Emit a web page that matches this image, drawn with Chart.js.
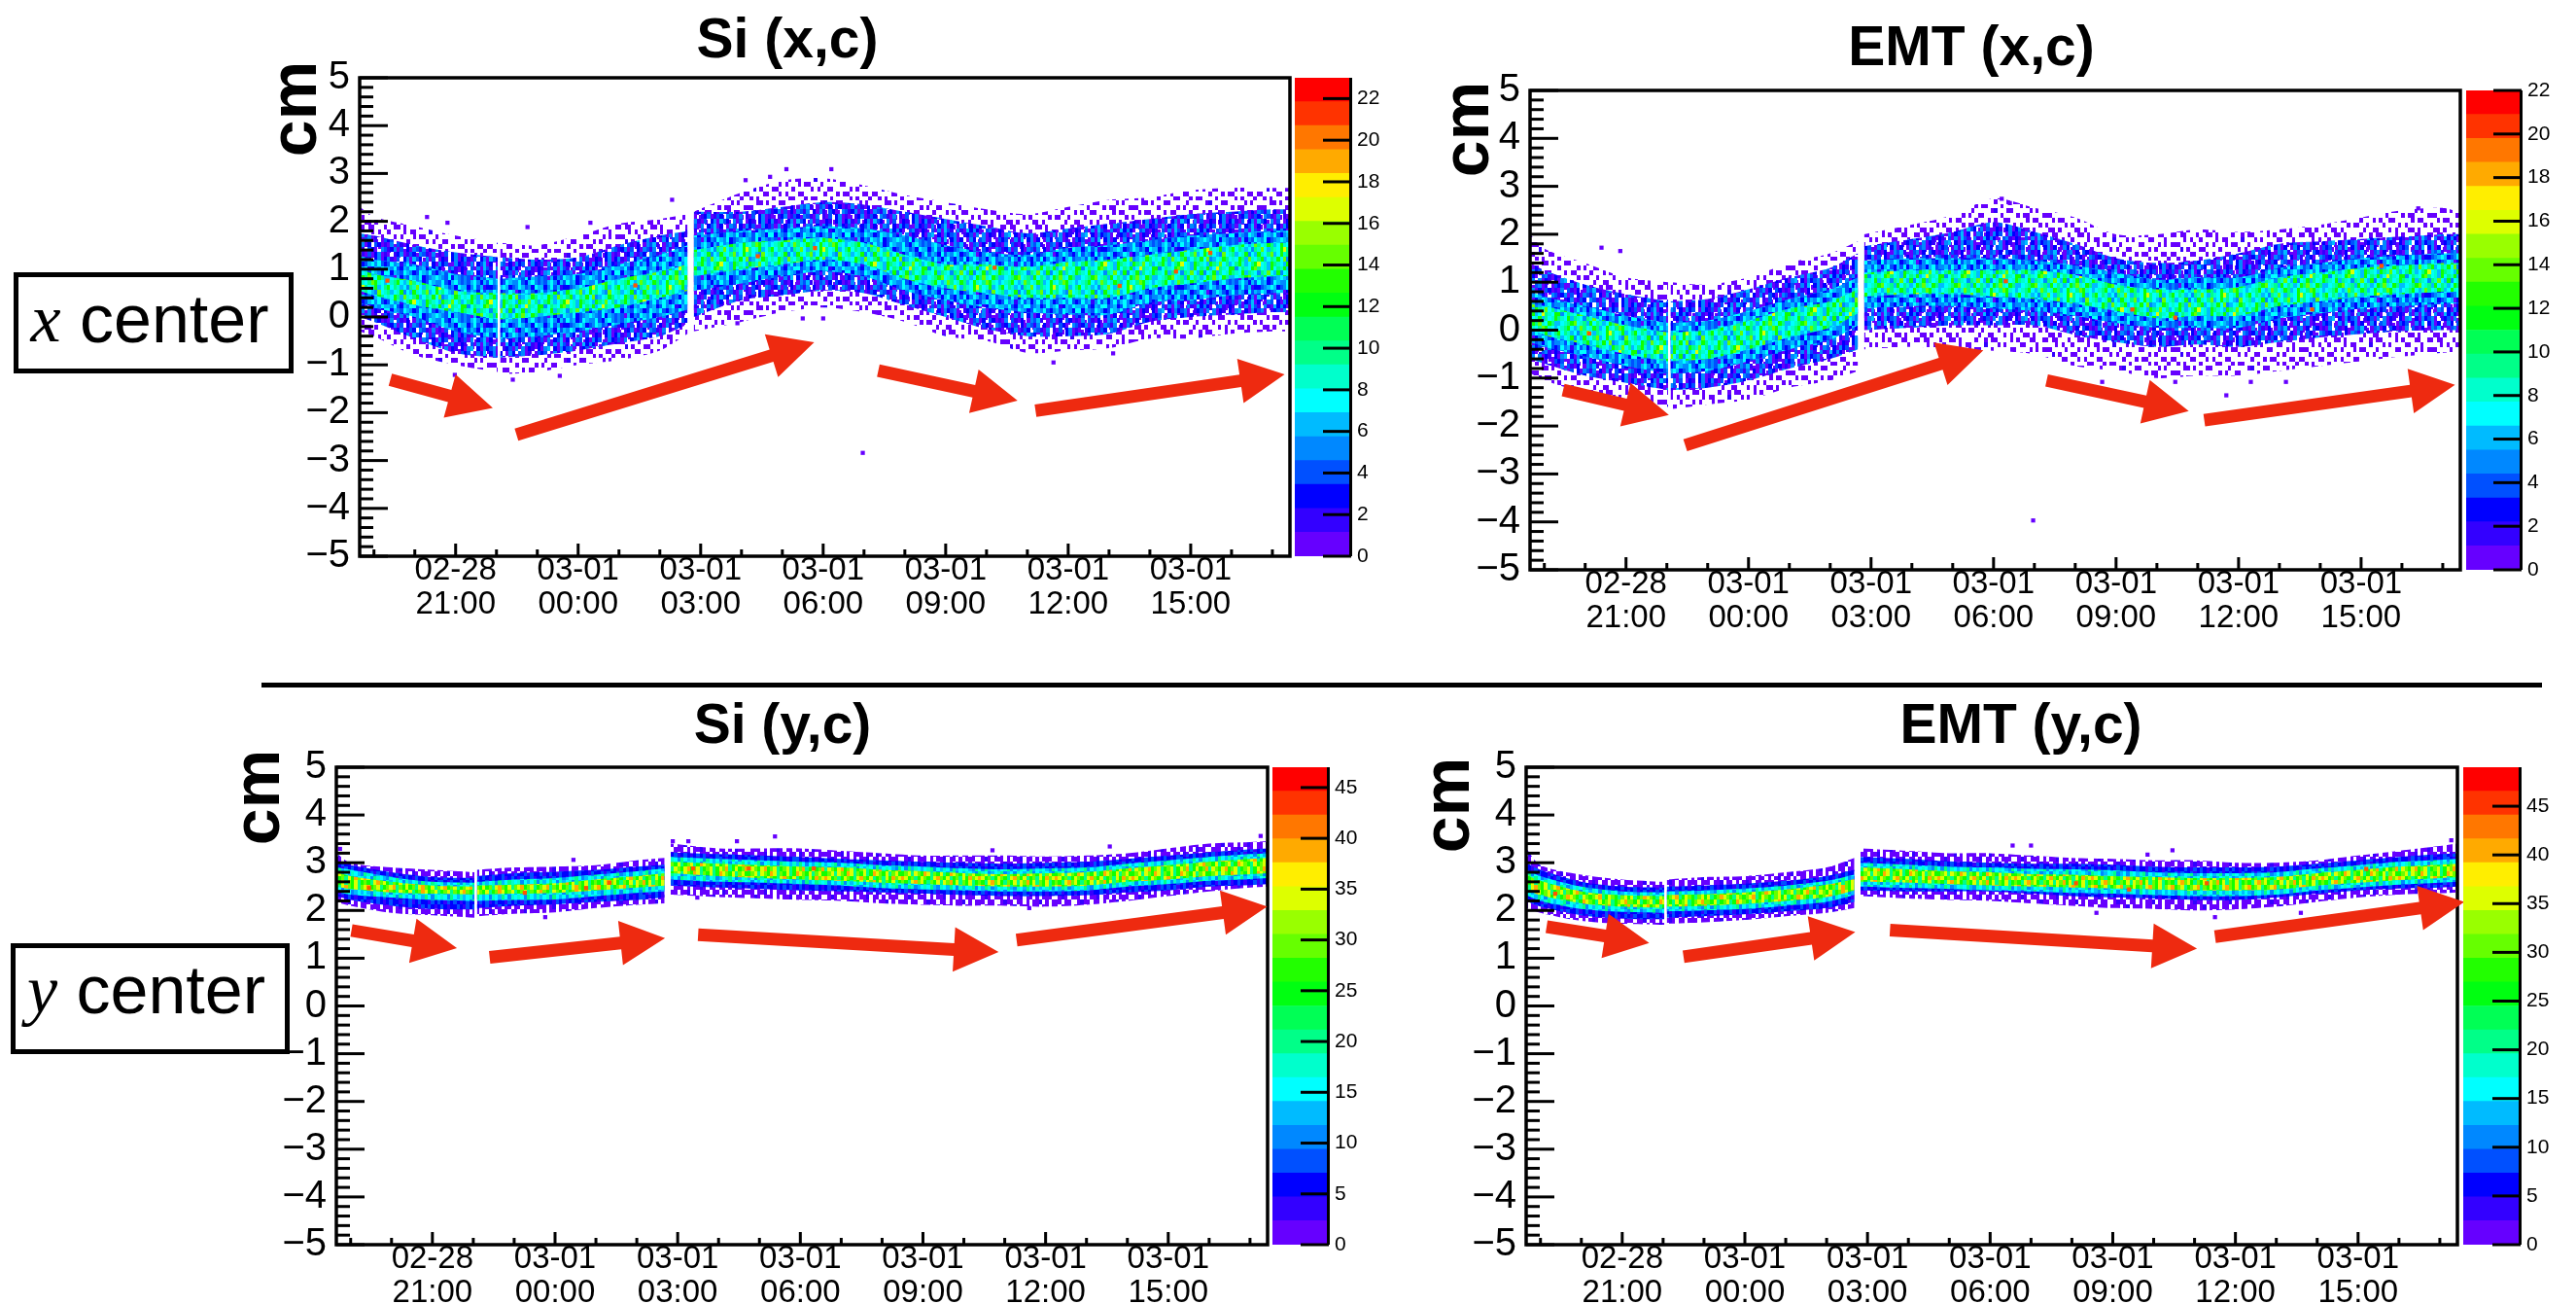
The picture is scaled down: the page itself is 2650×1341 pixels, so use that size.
<!DOCTYPE html>
<html lang="en">
<head>
<meta charset="UTF-8">
<title>Si and EMT beam center</title>
<script src="https://cdn.jsdelivr.net/npm/chart.js"></script>
<style>
  html, body { margin: 0; padding: 0; background: #fff; width: 2650px; height: 1341px; overflow: hidden; }
  canvas { position: absolute; }
  .box { position: absolute; box-sizing: border-box; border: 5px solid #000; display: flex; align-items: center; justify-content: center;
         font: 70px "Liberation Sans"; color: #000; white-space: pre; padding-right: 8px; }
  .box i { font-family: "Liberation Serif"; }
  #sep { position: absolute; left: 269px; top: 702px; width: 2346px; height: 5px; background: #000; }
</style>
</head>
<body>
<div class="box" style="left:14px;top:280px;width:288px;height:104px;padding-bottom:8px"><i>x</i> center</div>
<div class="box" style="left:11px;top:970px;width:287px;height:114px;padding-bottom:18px"><i>y</i> center</div>
<div id="sep"></div>

<script>
// time axis, hours counted from 02-28 00:00. null rows are the white gaps in the run
const hours = [18.65,19,20,21,22.03,22.06,22.09,23,24,25,26,26.68,26.75,26.83,28,29,30,31,32,33,34,35,36,37,38,39,40,41,41.43];
const majorHours = [21,24,27,30,33,36,39];
const dateLabels = ['02-28','03-01','03-01','03-01','03-01','03-01','03-01'];
const timeLabels = ['21:00','00:00','03:00','06:00','09:00','12:00','15:00'];

// Si (x,c)
const siXFringeTop = [2.3,2.1,1.9,1.7,1.55,null,1.55,1.5,1.7,1.95,2.05,2.15,null,2.2,2.6,2.85,2.9,2.75,2.55,2.4,2.25,2.15,2.3,2.45,2.5,2.65,2.7,2.7,2.7];
const siXBlueTop = [1.75,1.7,1.5,1.35,1.25,null,1.25,1.2,1.25,1.5,1.7,1.8,null,2.2,2.2,2.3,2.4,2.35,2.2,2.05,1.9,1.75,1.85,1.95,2.05,2.15,2.2,2.25,2.25];
const siXCyanTop = [1.3,1.2,1.1,0.9,0.8,null,0.8,0.85,0.9,1.1,1.3,1.5,null,1.7,1.8,1.85,1.9,1.85,1.7,1.5,1.35,1.3,1.45,1.5,1.6,1.7,1.75,1.8,1.8];
const siXCoreTop = [1.0,0.9,0.75,0.55,0.5,null,0.5,0.5,0.6,0.8,0.95,1.1,null,1.4,1.55,1.6,1.65,1.55,1.3,1.1,1.1,1.05,1.15,1.2,1.3,1.4,1.5,1.55,1.55];
const siXCoreBot = [0.55,0.45,0.25,0.1,-0.05,null,-0.05,0,0.1,0.2,0.4,0.55,null,0.85,1.0,1.1,1.2,1.1,0.8,0.6,0.5,0.4,0.4,0.4,0.6,0.7,0.8,0.85,0.85];
const siXCyanBot = [0.3,0.2,0,-0.3,-0.45,null,-0.45,-0.4,-0.3,-0.15,0,0.15,null,0.55,0.7,0.85,0.95,0.85,0.55,0.35,0.2,0.1,0.05,0.05,0.3,0.35,0.45,0.5,0.5];
const siXBlueBot = [0,-0.1,-0.45,-0.75,-0.85,null,-0.85,-0.8,-0.7,-0.55,-0.4,-0.15,null,0,0.35,0.45,0.55,0.5,0.25,0,-0.25,-0.4,-0.4,-0.35,-0.1,0,0.05,0.1,0.1];
const siXFringeBot = [-0.3,-0.4,-0.8,-1.0,-1.15,null,-1.2,-1.15,-1.0,-0.9,-0.7,-0.35,null,-0.3,-0.1,0.1,0.2,0.1,-0.1,-0.4,-0.5,-0.75,-0.7,-0.65,-0.45,-0.45,-0.35,-0.3,-0.3];
const siXStray = [[30.97,-2.84],[29.1,3.09],[30.2,3.09],[35.64,-0.95],[37.1,-0.76],[20.3,2.09],[20.8,1.97],[22.76,1.88],[22.4,-1.31],[23.55,-1.23],[20.98,-1.21],[24.3,1.97],[26.3,2.45],[28.7,2.93],[28.1,2.86],[29.5,-0.03],[30,-0.03],[27.9,-0.13]];
const siXHot = [[39.48,1.34],[37.26,0.65],[38.64,0.95],[34.2,1.03],[25.4,0.66],[28.4,1.27],[29.8,1.44],[19.33,0.76]];
const siXArrows = [[19.4,-1.31,21.91,-1.9],[22.49,-2.46,29.78,-0.53],[31.35,-1.12,34.76,-1.75],[35.2,-1.96,41.3,-1.2]];

// EMT (x,c)
const emtXFringeTop = [2.0,1.7,1.4,1.1,1.0,null,1.0,0.95,1.1,1.4,1.6,1.85,null,2.0,2.2,2.4,2.75,2.55,2.35,2.0,2.0,2.1,2.05,2.1,2.2,2.35,2.5,2.55,2.45];
const emtXBlueTop = [1.4,1.25,0.95,0.75,0.6,null,0.6,0.65,0.85,1.1,1.3,1.6,null,1.75,1.9,2.05,2.25,2.05,1.8,1.5,1.4,1.45,1.6,1.8,1.85,1.9,1.95,2.0,2.0];
const emtXCyanTop = [0.8,0.7,0.5,0.3,0.15,null,0.15,0.2,0.4,0.65,0.85,1.1,null,1.45,1.5,1.5,1.5,1.45,1.35,1.2,1.05,1.1,1.1,1.3,1.4,1.5,1.55,1.6,1.6];
const emtXCoreTop = [0.55,0.5,0.3,0.1,-0.05,null,-0.05,0,0.2,0.45,0.6,0.85,null,1.2,1.25,1.25,1.25,1.25,1.15,0.95,0.85,0.85,0.9,1.1,1.2,1.3,1.35,1.4,1.4];
const emtXCoreBot = [0.05,-0.1,-0.3,-0.5,-0.65,null,-0.65,-0.6,-0.4,-0.15,0.05,0.35,null,0.7,0.75,0.75,0.7,0.65,0.55,0.4,0.25,0.3,0.3,0.5,0.6,0.7,0.75,0.8,0.8];
const emtXCyanBot = [-0.25,-0.35,-0.55,-0.75,-0.9,null,-0.9,-0.85,-0.65,-0.4,-0.2,0.1,null,0.45,0.5,0.5,0.45,0.4,0.3,0.15,0.05,0.05,0.05,0.25,0.35,0.45,0.5,0.55,0.55];
const emtXBlueBot = [-0.6,-0.7,-0.95,-1.1,-1.25,null,-1.25,-1.2,-1.05,-0.8,-0.6,-0.4,null,0,0.05,0.1,0.1,0.1,-0.1,-0.25,-0.35,-0.3,-0.35,-0.25,-0.15,-0.08,-0.02,0,0];
const emtXFringeBot = [-0.9,-1.05,-1.3,-1.45,-1.6,null,-1.65,-1.55,-1.45,-1.2,-1.05,-0.85,null,-0.4,-0.35,-0.4,-0.43,-0.5,-0.75,-0.85,-1.0,-0.95,-0.95,-0.85,-0.75,-0.65,-0.55,-0.47,-0.45];
const emtXStray = [[30.97,-3.97],[35.7,-1.36],[30.2,2.74],[30.4,2.65],[20.4,1.72],[20.86,1.65],[32.66,-1.08],[34.45,-1.08],[36.3,-1.08],[37.16,-1.08],[40.4,2.54]];
const emtXHot = [[20.1,-0.07],[30.3,1.02],[33.4,0.43],[34.45,0.26],[37.8,0.43],[39.5,1.34]];
const emtXArrows = [[19.46,-1.25,22.05,-1.77],[22.45,-2.4,29.75,-0.42],[31.3,-1.05,34.78,-1.69],[35.16,-1.88,41.3,-1.14]];

// Si (y,c)
const siYFringeTop = [3.2,3.0,2.9,2.85,2.8,null,2.85,2.9,2.92,2.95,3.05,3.1,null,3.4,3.3,3.3,3.3,3.25,3.2,3.15,3.15,3.15,3.13,3.15,3.2,3.3,3.4,3.43,3.45];
const siYBlueTop = [3.0,2.95,2.8,2.7,2.68,null,2.72,2.78,2.81,2.85,2.92,2.96,null,3.22,3.18,3.15,3.12,3.08,3.05,3.02,3.0,2.98,3.0,3.02,3.08,3.15,3.22,3.28,3.3];
const siYCyanTop = [2.9,2.85,2.7,2.6,2.58,null,2.6,2.65,2.68,2.75,2.82,2.88,null,3.12,3.08,3.05,3.02,3.0,2.95,2.92,2.88,2.86,2.88,2.9,2.98,3.05,3.12,3.18,3.2];
const siYCoreTop = [2.8,2.72,2.6,2.52,2.5,null,2.52,2.54,2.57,2.65,2.72,2.78,null,3.02,2.98,2.95,2.92,2.9,2.85,2.82,2.78,2.76,2.78,2.8,2.88,2.95,3.02,3.08,3.1];
const siYCoreBot = [2.5,2.45,2.38,2.35,2.33,null,2.33,2.35,2.37,2.42,2.48,2.52,null,2.78,2.72,2.68,2.65,2.62,2.58,2.55,2.52,2.5,2.5,2.52,2.6,2.65,2.72,2.76,2.78];
const siYCyanBot = [2.4,2.33,2.27,2.22,2.2,null,2.2,2.22,2.23,2.3,2.37,2.4,null,2.65,2.6,2.58,2.55,2.52,2.47,2.44,2.42,2.4,2.4,2.42,2.5,2.55,2.62,2.66,2.68];
const siYBlueBot = [2.3,2.22,2.1,2.03,2.02,null,2.05,2.1,2.13,2.18,2.22,2.27,null,2.52,2.48,2.45,2.42,2.4,2.38,2.35,2.32,2.3,2.3,2.32,2.38,2.42,2.5,2.53,2.55];
const siYFringeBot = [2.17,2.1,1.95,1.9,1.85,null,1.88,1.93,1.96,2.05,2.12,2.15,null,2.33,2.28,2.25,2.22,2.2,2.15,2.12,2.1,2.1,2.08,2.12,2.2,2.3,2.4,2.48,2.5];
const siYStray = [[29.38,3.55],[27.48,2.27],[23.76,1.86],[24.45,3.06],[26.88,3.45],[27.26,3.45],[18.74,3.29],[28.45,3.45],[35.6,2.05],[34.7,3.26],[41.26,3.56],[37.57,3.34]];
const siYHot = [[25.33,2.58],[27.38,2.88],[28.74,2.88],[30.33,2.88],[19.45,2.47],[23.26,2.37],[24.76,2.47]];
const siYArrows = [[19.02,1.58,21.6,1.21],[22.4,1.02,26.69,1.42],[27.5,1.49,34.85,1.13],[35.29,1.38,41.42,2.08]];

// EMT (y,c)
const emtYFringeTop = [3.3,2.95,2.75,2.65,2.6,null,2.65,2.7,2.72,2.8,2.9,3.1,null,3.3,3.25,3.2,3.2,3.15,3.1,3.08,3.05,3.05,3.0,3.0,3.05,3.15,3.25,3.35,3.4];
const emtYBlueTop = [3.0,2.85,2.6,2.5,2.48,null,2.5,2.52,2.56,2.62,2.72,2.85,null,3.12,3.08,3.03,3.0,2.98,2.98,2.96,2.92,2.9,2.9,2.92,2.98,3.05,3.12,3.18,3.2];
const emtYCyanTop = [2.85,2.72,2.5,2.4,2.38,null,2.4,2.42,2.46,2.52,2.62,2.75,null,3.0,2.96,2.92,2.9,2.87,2.86,2.84,2.8,2.78,2.78,2.8,2.88,2.95,3.02,3.06,3.08];
const emtYCoreTop = [2.75,2.62,2.4,2.32,2.3,null,2.32,2.34,2.38,2.44,2.54,2.66,null,2.9,2.86,2.82,2.8,2.76,2.75,2.72,2.7,2.68,2.68,2.7,2.78,2.85,2.92,2.96,2.98];
const emtYCoreBot = [2.45,2.32,2.15,2.08,2.05,null,2.08,2.1,2.14,2.2,2.28,2.42,null,2.6,2.58,2.55,2.52,2.5,2.48,2.46,2.44,2.42,2.42,2.44,2.52,2.58,2.64,2.68,2.7];
const emtYCyanBot = [2.32,2.2,2.03,1.97,1.95,null,1.98,2.0,2.03,2.1,2.18,2.32,null,2.5,2.47,2.45,2.42,2.4,2.37,2.35,2.32,2.3,2.3,2.33,2.42,2.48,2.54,2.58,2.6];
const emtYBlueBot = [2.2,2.08,1.9,1.83,1.82,null,1.85,1.88,1.92,1.98,2.05,2.18,null,2.42,2.4,2.4,2.4,2.35,2.3,2.27,2.25,2.22,2.22,2.27,2.35,2.42,2.46,2.48,2.5];
const emtYFringeBot = [2.05,1.95,1.78,1.72,1.7,null,1.72,1.75,1.8,1.88,1.95,2.05,null,2.3,2.25,2.22,2.2,2.15,2.1,2.05,2.03,2.0,2.02,2.08,2.18,2.27,2.33,2.36,2.38];
const emtYStray = [[35.5,1.86],[34.46,3.26],[31,3.36],[30.55,3.36],[32.6,1.95],[37.6,1.95],[33.85,3.17],[41.28,3.47],[18.67,3.09]];
const emtYHot = [[32.1,2.57],[35.3,2.57],[39.2,2.87],[33.4,2.44],[19.36,2.35]];
const emtYArrows = [[19.15,1.66,21.66,1.32],[22.5,1.03,26.7,1.55],[27.55,1.59,35.06,1.2],[35.5,1.45,41.6,2.18]];

// palette of the z scale, bottom to top
const zColors = ['#6600ff','#3300ff','#0000ff','#0050ff','#0088ff','#00bbff','#00ffff','#00ffcc','#00ff88','#00ff55','#00ff11','#22ff00','#66ff00','#99ff00','#ddff00','#ffee00','#ffaa00','#ff7700','#ff3300','#ff0000'];

// speckle of the histogram cells, one letter per cell
const cellColors = { p:'#6600ff', i:'#3300ff', b:'#0000ff', m:'#0050ff', a:'#0088ff', s:'#00bbff', c:'#00ffff', t:'#00ffcc', e:'#00ff88', g:'#11ff00', l:'#66ff00', y:'#ddff00', o:'#ffaa00' };
const fringeTile = [
  'p.pp...p..pp.p....p..p.pp....p.p...pp..p',
  '...p.p..p....p.pp....i...p.p....pp...p..',
  'pp....p...p.p...p.pp...p.....pp....p.p.p',
  '..i.p...pp....p.....p.p..pp.....p.p.....',
  'p....pp...p.p...pp......p...p.pp....pp.p',
  '.p.p....p....pp...p.pp....p.....p.p...p.',
  '...pp.p...pp.....p.....pi...pp.....p.p..',
  'pp......p.....p.p..pp.....p....p.pp....p',
  '..p.pp....p.pp....p...p.p..pp.....p.pp..',
  'p.....p.p.....p.pp..p....p....p.p.....p.',
  '.pp.p....pp.p......p..pp...p.p...pp.p...'];
const yFringeTile = ['pp.ppi.p.ppp.pp.ip.pp.pp','.pip.ppp.p.ppi.pp.p.ppp.','pp.pp..pipp.pp.p.ppi.p.p','p.ppp.ppp.pi.ppp.pp.pp.p','.pi.ppp.p.pp.p.ip.ppp.pp','pp.p.pp.ppp.ppp.pp.p.pi.','p.ppi.pp.p.pip.pp.ppp.pp','.ppp.p.ppip.pp.pp.p.ipp.'];
const blueTile = ['pa.mipb.pamsi.pmapb.mbpi','ibapm.bpamia.bpai.mbp.amp','p.ibapimb.amipa.ipm.bapi','aipm.bapsmb.apm.pbi.bapb','mpa.bmspb.pam.bpabm.pabi','i.mpapsmi.aipsbabp.maipb','pas.bpabmap.ibmpa.apbi.b','bm.pais.bapb.pab.mapi.pm'];
const cyanTile = ['amscabsmcasbmcsaacmbscam','sbacmsibbmascsbmacsmabcs','cmsabcmsacsbmacspbacsmba','asmcabscmbsmcbacsmabscma','mcasiacmsbacmscabmscacmb','sacmbsaccmasbmcascibsacs','cbsamcsabmcsacmbasmcsabc','ampsbamcsacbmascsamcbsam'];
const coreTile = ['ctegcstlectgescgtcelgtcs','gcetscaetlcsetcgyectgsce','esctgacsgtcelscgtecsalct','tcgesltcegscetgclasctgec','cegtscegyctsgetcsgetlces','gacetcglectsgcetgscyetcg','etcgsetcaetlcsgactgsectg','scteglctesgcetscgeltcges'];
const yBlueTile = ['bmibmbibmbmibbmbimbmbibm','mbbimbmbibmbibmmbibmbibb','bimbmbibmbbimbmibmbbimbm','mbibbmbimbmbibmbbimbmbib','bbmimbbmibmbimbbmibmbbim','imbbmibbmbimbmbimbbmibmb','mbimbbmibmbibbmimbbmbibm','bmbibmbbimbmbmibmbibbmbi'];
const yCyanTile = ['csatcsecatcstcaecstcascs','tcaecstsctaecscatcsecatc','scteactscaetcstsecacstec','caestcscteacstcaesctcsae','etcascteascatcsteacstcsa','scaetcsatcesctasctecasct','tacsceatscecatsctaescetc','csetasctcesatcsecatsctea'];
const yCoreTile = ['glyelgyolgeylgyegloyglye','yegloylgeylglyoegylgelyg','lgyeglyegoylgeyglyeglyol','eylgyoglyeglyegyloegyglo','glyeylgoyelgyegoylgyelyg','oyglegylgeyolgyegleygoly','lgeyolygelgyeylogyelgyeg','yoglyeglyoelgygleyolgyel'];

// frame, title and text placement of the four pads, full-page pixels
const pads = [
  { title:'Si (x,c)', left:370, right:1327, top:80, bottom:572, titleX:810, titleGap:8, cmX:-45, cmY:32,
    zLeft:1332, zRight:1390, zMax:23, zStep:2,
    fringeTop:siXFringeTop, blueTop:siXBlueTop, cyanTop:siXCyanTop, coreTop:siXCoreTop, coreBot:siXCoreBot, cyanBot:siXCyanBot, blueBot:siXBlueBot, fringeBot:siXFringeBot,
    stray:siXStray, hot:siXHot, arrows:siXArrows, tiles:[fringeTile,blueTile,cyanTile,coreTile] },
  { title:'EMT (x,c)', left:1574, right:2531, top:93, bottom:586, titleX:2028, titleGap:13, cmX:-43, cmY:40,
    zLeft:2537, zRight:2594, zMax:22, zStep:2,
    fringeTop:emtXFringeTop, blueTop:emtXBlueTop, cyanTop:emtXCyanTop, coreTop:emtXCoreTop, coreBot:emtXCoreBot, cyanBot:emtXCyanBot, blueBot:emtXBlueBot, fringeBot:emtXFringeBot,
    stray:emtXStray, hot:emtXHot, arrows:emtXArrows, tiles:[fringeTile,blueTile,cyanTile,coreTile] },
  { title:'Si (y,c)', left:346, right:1304, top:789, bottom:1280, titleX:805, titleGap:12, cmX:-59, cmY:31,
    zLeft:1309, zRight:1367, zMax:47, zStep:5,
    fringeTop:siYFringeTop, blueTop:siYBlueTop, cyanTop:siYCyanTop, coreTop:siYCoreTop, coreBot:siYCoreBot, cyanBot:siYCyanBot, blueBot:siYBlueBot, fringeBot:siYFringeBot,
    stray:siYStray, hot:siYHot, arrows:siYArrows, tiles:[yFringeTile,yBlueTile,yCyanTile,yCoreTile] },
  { title:'EMT (y,c)', left:1570, right:2528, top:789, bottom:1280, titleX:2079, titleGap:12, cmX:-59, cmY:39,
    zLeft:2534, zRight:2593, zMax:49, zStep:5,
    fringeTop:emtYFringeTop, blueTop:emtYBlueTop, cyanTop:emtYCyanTop, coreTop:emtYCoreTop, coreBot:emtYCoreBot, cyanBot:emtYCyanBot, blueBot:emtYBlueBot, fringeBot:emtYFringeBot,
    stray:emtYStray, hot:emtYHot, arrows:emtYArrows, tiles:[yFringeTile,yBlueTile,yCyanTile,yCoreTile] }
];

Chart.defaults.font.family = '"Liberation Sans"';
Chart.defaults.color = '#000';
Chart.defaults.animation = false;

const arrowRed = '#ee2a10';
const labelRoom = 130;
const titleSize = 57;
const shaftWidth = 13;
const headLength = 46;

function makeTile(rows) {
  const cw = 3.3, ch = 4.9;
  const c = document.createElement('canvas');
  c.width = Math.round(rows[0].length * cw);
  c.height = Math.round(rows.length * ch);
  const g = c.getContext('2d');
  rows.forEach((row, r) => {
    for (let k = 0; k < row.length; k++) {
      if (row[k] === '.') continue;
      const x0 = Math.round(k * cw), x1 = Math.round((k + 1) * cw);
      const y0 = Math.round(r * ch), y1 = Math.round((r + 1) * ch);
      g.fillStyle = cellColors[row[k]];
      g.fillRect(x0, y0, x1 - x0, y1 - y0);
    }
  });
  return g.createPattern(c, 'repeat');
}

function addCanvas(left, top, width, height) {
  const c = document.createElement('canvas');
  c.width = width;
  c.height = height;
  c.style.left = left + 'px';
  c.style.top = top + 'px';
  c.style.width = width + 'px';
  c.style.height = height + 'px';
  document.body.appendChild(c);
  return c;
}

function series(values) {
  return values.map((v, i) => ({ x: hours[i], y: v }));
}

function band(top, bot, fill) {
  return [
    { data: series(top), fill: '+1', backgroundColor: fill, borderWidth: 0, pointRadius: 0, spanGaps: false, tension: 0.3 },
    { data: series(bot), fill: false, borderWidth: 0, pointRadius: 0, spanGaps: false, tension: 0.3 }
  ];
}

function cells(list, color, size) {
  return {
    data: list.map(p => ({ x: p[0], y: p[1] })),
    showLine: false, fill: false, pointStyle: 'rect', pointRadius: size, pointBorderWidth: 0,
    pointBackgroundColor: color, borderWidth: 0
  };
}

// ROOT style pad: inward ticks, closed frame, red arrows and the rotated unit
const padDecor = {
  id: 'padDecor',
  afterDatasetsDraw(chart, args, opts) {
    const { ctx, chartArea: a, scales: { x, y } } = chart;
    ctx.save();
    ctx.fillStyle = '#000';
    for (let n = -25; n <= 25; n++) {
      const len = n % 5 === 0 ? 29 : 14;
      ctx.fillRect(a.left, y.getPixelForValue(n / 5) - 1.5, len, 3);
    }
    for (let h = 19; h <= 41; h++) {
      const len = (h - 21) % 3 === 0 ? 13 : 7;
      ctx.fillRect(x.getPixelForValue(h) - 1.5, a.bottom - len, 3, len);
    }
    ctx.lineWidth = 3.5;
    ctx.strokeStyle = '#000';
    ctx.strokeRect(a.left, a.top, a.right - a.left, a.bottom - a.top);

    ctx.fillStyle = arrowRed;
    opts.arrows.forEach(r => {
      const x0 = x.getPixelForValue(r[0]), y0 = y.getPixelForValue(r[1]);
      const x1 = x.getPixelForValue(r[2]), y1 = y.getPixelForValue(r[3]);
      const ang = Math.atan2(y1 - y0, x1 - x0);
      const len = Math.hypot(x1 - x0, y1 - y0);
      ctx.save();
      ctx.translate(x0, y0);
      ctx.rotate(ang);
      ctx.beginPath();
      ctx.moveTo(0, -shaftWidth / 2);
      ctx.lineTo(len - headLength, -shaftWidth / 2);
      ctx.lineTo(len - headLength, -23);
      ctx.lineTo(len, 0);
      ctx.lineTo(len - headLength, 23);
      ctx.lineTo(len - headLength, shaftWidth / 2);
      ctx.lineTo(0, shaftWidth / 2);
      ctx.closePath();
      ctx.fill();
      ctx.restore();
    });

    ctx.fillStyle = '#000';
    ctx.font = 'bold 68px "Liberation Sans"';
    ctx.textAlign = 'center';
    ctx.textBaseline = 'alphabetic';
    ctx.translate(a.left + opts.cmX, a.top + opts.cmY);
    ctx.rotate(-Math.PI / 2);
    ctx.fillText('cm', 0, 0);
    ctx.restore();
  }
};

// right axis line and long ticks of the colour bar
const zDecor = {
  id: 'zDecor',
  afterDatasetsDraw(chart) {
    const { ctx, chartArea: a, scales: { y } } = chart;
    ctx.save();
    ctx.fillStyle = '#000';
    ctx.fillRect(a.right - 2, a.top, 3, a.bottom - a.top);
    y.ticks.forEach(t => {
      ctx.fillRect(a.right - 29, y.getPixelForValue(t.value) - 1.5, 29, 3);
    });
    ctx.restore();
  }
};

pads.forEach(p => {
  const canvasLeft = p.left - labelRoom;
  const canvasWidth = 2 * (p.titleX - canvasLeft);
  const canvasTop = p.top - titleSize - p.titleGap;
  const canvasHeight = p.bottom + 75 - canvasTop;
  const cv = addCanvas(canvasLeft, canvasTop, canvasWidth, canvasHeight);
  const tiles = p.tiles.map(makeTile);
  const rightRoom = canvasWidth - labelRoom - (p.right - p.left);

  new Chart(cv, {
    type: 'line',
    data: {
      // lower index is painted last, so the core comes first
      datasets: [
        cells(p.hot, '#ff5500', 3),
        cells(p.stray, zColors[0], 3),
        ...band(p.coreTop, p.coreBot, tiles[3]),
        ...band(p.cyanTop, p.cyanBot, tiles[2]),
        ...band(p.blueTop, p.blueBot, tiles[1]),
        ...band(p.fringeTop, p.fringeBot, tiles[0])
      ]
    },
    options: {
      responsive: false,
      layout: { autoPadding: false, padding: 0 },
      plugins: {
        legend: { display: false },
        tooltip: { enabled: false },
        title: { display: true, text: p.title, font: { size: titleSize, weight: 'bold', lineHeight: 1 }, padding: { top: 0, bottom: p.titleGap } },
        padDecor: { arrows: p.arrows, cmX: p.cmX, cmY: p.cmY }
      },
      scales: {
        x: {
          type: 'linear', min: hours[0], max: hours[hours.length - 1],
          grid: { display: false, drawTicks: false }, border: { display: false },
          afterBuildTicks(s) { s.ticks = majorHours.map(v => ({ value: v })); },
          afterFit(s) { s.height = 75; },
          ticks: {
            autoSkip: false, maxRotation: 0, minRotation: 0, padding: -3,
            font: { size: 33, lineHeight: 1.06 },
            callback(v, i) { return [dateLabels[i], timeLabels[i]]; }
          }
        },
        y: {
          min: -5, max: 5,
          grid: { display: false, drawTicks: false }, border: { display: false },
          afterFit(s) { s.width = labelRoom; },
          ticks: {
            stepSize: 1, autoSkip: false, padding: 10, font: { size: 40 },
            callback(v) { return String(v).replace('-', '\u2212'); }
          }
        },
        // empty axis, only keeps the room right of the frame so the title stays on its own centre
        spare: {
          type: 'linear', position: 'right', display: true,
          grid: { display: false, drawTicks: false }, border: { display: false },
          ticks: { display: false },
          afterFit(s) { s.width = rightRoom; }
        }
      }
    },
    plugins: [padDecor]
  });

  // colour bar beside the pad
  const zc = addCanvas(p.zLeft, p.top - 20, p.zRight - p.zLeft + 50, p.bottom - p.top + 40);
  new Chart(zc, {
    type: 'bar',
    data: {
      labels: ['z'],
      datasets: zColors.map(c => ({ data: [p.zMax / zColors.length], backgroundColor: c, barPercentage: 1, categoryPercentage: 1 }))
    },
    options: {
      responsive: false,
      layout: { autoPadding: false, padding: { top: 20, bottom: 20, left: 0, right: 0 } },
      plugins: { legend: { display: false }, tooltip: { enabled: false } },
      scales: {
        x: { stacked: true, display: false },
        y: {
          stacked: true, position: 'right', min: 0, max: p.zMax,
          grid: { display: false, drawTicks: false }, border: { display: false },
          afterFit(s) { s.width = 50; },
          ticks: { stepSize: p.zStep, includeBounds: false, padding: 6, font: { size: 21 } }
        }
      }
    },
    plugins: [zDecor]
  });
});
</script>
</body>
</html>
